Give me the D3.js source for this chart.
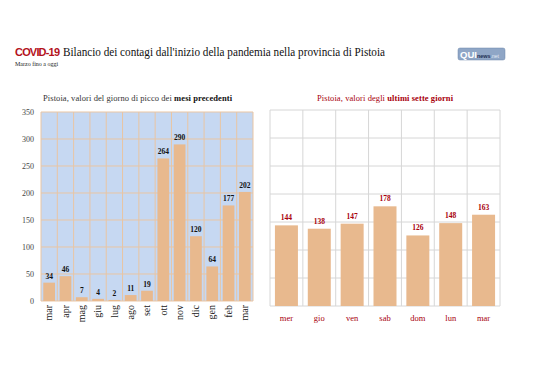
<!DOCTYPE html>
<html>
<head>
<meta charset="utf-8">
<script src="https://cdn.jsdelivr.net/npm/d3@7"></script>
<style>
  body { margin: 0; background: #fff; }
  svg { display: block; }
</style>
</head>
<body>
<div id="chart"></div>
<script>
const months = ["mar","apr","mag","giu","lug","ago","set","ott","nov","dic","gen","feb","mar "]
const monthValues = [34, 46, 7, 4, 2, 11, 19, 264, 290, 120, 64, 177, 202]
const days = ["mer","gio","ven","sab","dom","lun","mar"]
const dayValues = [144, 138, 147, 178, 126, 148, 163]
const yTicks = [0, 50, 100, 150, 200, 250, 300, 350]

const serif = "'Liberation Serif', 'DejaVu Serif', serif"
const barColor = "#e8b98e"
const darkRed = "#a8000c"

let svg = d3.select('#chart')
    .append('svg')
    .attr('width', 538)
    .attr('height', 380)

// header
svg.append("text")
    .attr("x", 15)
    .attr("y", 56)
    .attr("font-size", 11)
    .attr("font-family", "'Liberation Sans', Arial, sans-serif")
    .attr("font-weight", "bold")
    .attr("fill", "#b3121b")
    .attr("textLength", 45)
    .text("COVID-19")

svg.append("text")
    .attr("x", 63)
    .attr("y", 56)
    .attr("font-size", 12.5)
    .attr("font-family", serif)
    .attr("fill", "#111")
    .attr("textLength", 322)
    .attr("lengthAdjust", "spacingAndGlyphs")
    .text("Bilancio dei contagi dall'inizio della pandemia nella provincia di Pistoia")

svg.append("text")
    .attr("x", 15)
    .attr("y", 66)
    .attr("font-family", serif)
    .attr("font-size", 6)
    .attr("fill", "#222")
    .text("Marzo fino a oggi")

// logo
let logo = svg.append("g").attr("transform", "translate(458,48)")
logo.append("rect")
    .attr("width", 47).attr("height", 12).attr("rx", 2)
    .attr("fill", "#8fa6c6").attr("stroke", "#6d86ab").attr("stroke-width", 0.5)
let logoText = logo.append("text").attr("x", 2).attr("y", 10).attr("font-family", "'Liberation Sans', Arial, sans-serif")
logoText.append("tspan").attr("font-size", 9.5).attr("font-weight", "bold").attr("fill", "#fff").text("QUI")
logoText.append("tspan").attr("font-size", 5.5).attr("font-weight", "bold").attr("fill", "#1e2f55").text("news")
logoText.append("tspan").attr("font-size", 5).attr("fill", "#e4ebf5").text(".net")

// ---------- left chart: monthly peaks ----------
let left = { x0: 41, x1: 253, y0: 112, y1: 301 }

let xMonth = d3.scaleBand()
    .domain(months)
    .range([left.x0, left.x1])
    .paddingInner(0.28)
    .paddingOuter(0.14)

let yLeft = d3.scaleLinear()
    .domain([0, 350])
    .range([left.y1, left.y0])

svg.append("text")
    .attr("x", 43)
    .attr("y", 101)
    .attr("font-family", serif)
    .attr("font-size", 8.5)
    .attr("fill", "#333")
    .attr("textLength", 189)
    .call(t => {
        t.append("tspan").text("Pistoia, valori del giorno di picco dei ")
        t.append("tspan").attr("font-weight", "bold").attr("fill", "#111").text("mesi precedenti")
    })

svg.append("rect")
    .attr("x", left.x0).attr("y", left.y0)
    .attr("width", left.x1 - left.x0).attr("height", left.y1 - left.y0)
    .attr("fill", "#c6d8f2")

let leftGrid = svg.append("g")
leftGrid.selectAll(".hgrid")
    .data(yTicks)
    .join("line")
    .attr("class", "hgrid")
    .attr("x1", left.x0).attr("x2", left.x1)
    .attr("y1", d => yLeft(d)).attr("y2", d => yLeft(d))
    .attr("stroke", "#e9c5a3").attr("stroke-width", 1)

let monthStep = (left.x1 - left.x0) / months.length
leftGrid.selectAll(".vgrid")
    .data(d3.range(months.length + 1))
    .join("line")
    .attr("class", "vgrid")
    .attr("x1", i => left.x0 + i * monthStep).attr("x2", i => left.x0 + i * monthStep)
    .attr("y1", left.y0).attr("y2", left.y1)
    .attr("stroke", "#e9c5a3").attr("stroke-width", 1)

svg.append("g")
    .selectAll("rect")
    .data(monthValues)
    .join("rect")
    .attr("x", (d, i) => xMonth(months[i]))
    .attr("width", xMonth.bandwidth())
    .attr("y", d => yLeft(d))
    .attr("height", d => yLeft(0) - yLeft(d))
    .attr("fill", barColor)

svg.append("g")
    .selectAll("text")
    .data(monthValues)
    .join("text")
    .attr("x", (d, i) => xMonth(months[i]) + xMonth.bandwidth() / 2)
    .attr("y", d => yLeft(d) - 4)
    .attr("text-anchor", "middle")
    .attr("font-family", serif)
    .attr("font-weight", "bold")
    .attr("font-size", 7.5)
    .attr("fill", "#111")
    .text(d => d)

let yAxisLeft = svg.append("g")
    .attr("transform", `translate(${left.x0},0)`)
    .call(d3.axisLeft(yLeft).tickValues(yTicks).tickSize(0).tickPadding(7))
yAxisLeft.select(".domain").remove()
yAxisLeft.selectAll("text")
    .attr("font-family", serif)
    .attr("font-size", 8)
    .attr("fill", "#444")

let xAxisLeft = svg.append("g")
    .attr("transform", `translate(0,${left.y1})`)
    .call(d3.axisBottom(xMonth).tickSize(0))
xAxisLeft.select(".domain").remove()
xAxisLeft.selectAll("text")
    .attr("transform", "rotate(-90)")
    .attr("x", -4)
    .attr("y", 0)
    .attr("dy", "0.32em")
    .attr("text-anchor", "end")
    .attr("font-family", serif)
    .attr("font-size", 10)
    .attr("fill", "#222")
    .text(d => d.trim())

// ---------- right chart: last seven days ----------
let right = { x0: 270, x1: 500, y0: 110, y1: 306 }

let xDay = d3.scaleBand()
    .domain(days)
    .range([right.x0, right.x1])
    .paddingInner(0.3)
    .paddingOuter(0.15)

let yRight = d3.scaleLinear()
    .domain([0, 350])
    .range([right.y1, right.y0])

svg.append("text")
    .attr("x", 317)
    .attr("y", 101)
    .attr("font-family", serif)
    .attr("font-size", 8.5)
    .attr("fill", darkRed)
    .attr("textLength", 136)
    .call(t => {
        t.append("tspan").text("Pistoia, valori degli ")
        t.append("tspan").attr("font-weight", "bold").text("ultimi sette giorni")
    })

let rightGrid = svg.append("g")
rightGrid.selectAll(".hgrid")
    .data(yTicks)
    .join("line")
    .attr("class", "hgrid")
    .attr("x1", right.x0).attr("x2", right.x1)
    .attr("y1", d => yRight(d)).attr("y2", d => yRight(d))
    .attr("stroke", "#d6d6d6").attr("stroke-width", 1)

let dayStep = (right.x1 - right.x0) / days.length
rightGrid.selectAll(".vgrid")
    .data(d3.range(days.length + 1))
    .join("line")
    .attr("class", "vgrid")
    .attr("x1", i => right.x0 + i * dayStep).attr("x2", i => right.x0 + i * dayStep)
    .attr("y1", right.y0).attr("y2", right.y1)
    .attr("stroke", "#d6d6d6").attr("stroke-width", 1)

svg.append("g")
    .selectAll("rect")
    .data(dayValues)
    .join("rect")
    .attr("x", (d, i) => xDay(days[i]))
    .attr("width", xDay.bandwidth())
    .attr("y", d => yRight(d))
    .attr("height", d => yRight(0) - yRight(d))
    .attr("fill", barColor)

svg.append("g")
    .selectAll("text")
    .data(dayValues)
    .join("text")
    .attr("x", (d, i) => xDay(days[i]) + xDay.bandwidth() / 2)
    .attr("y", d => yRight(d) - 5)
    .attr("text-anchor", "middle")
    .attr("font-family", serif)
    .attr("font-weight", "bold")
    .attr("font-size", 7.5)
    .attr("fill", darkRed)
    .text(d => d)

let xAxisRight = svg.append("g")
    .attr("transform", `translate(0,${right.y1})`)
    .call(d3.axisBottom(xDay).tickSize(0).tickPadding(9))
xAxisRight.select(".domain").remove()
xAxisRight.selectAll("text")
    .attr("font-family", serif)
    .attr("font-size", 8.5)
    .attr("fill", darkRed)
</script>
</body>
</html>
